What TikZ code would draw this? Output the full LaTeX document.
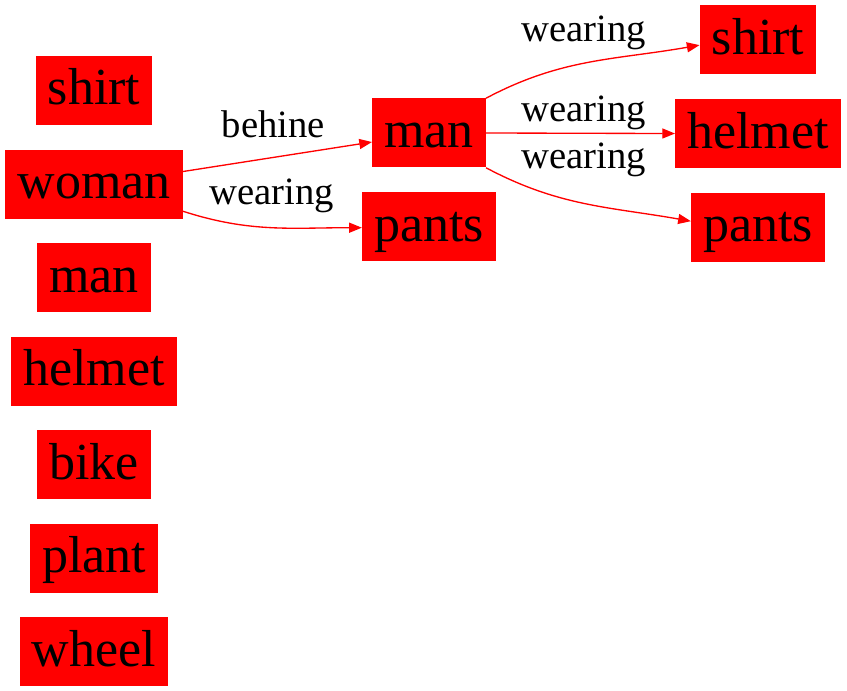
\documentclass[tikz,border=0pt]{standalone}
\usepackage{fontspec}
\setmainfont{Liberation Serif}
\usetikzlibrary{arrows.meta, positioning}
\definecolor{OBJred}{HTML}{FF0000}
\tikzset{
  objbox/.style={rectangle, fill=OBJred, text=black, inner xsep=9pt, inner ysep=0pt,
    text height=36.75pt, text depth=15pt, font=\fontsize{39}{47}\selectfont},
  relarr/.style={-{Triangle[length=9.5pt,width=7.5pt]}, line width=1pt, draw=OBJred},
  rellbl/.style={anchor=base, inner sep=0pt, text=black, font=\fontsize{29}{35}\selectfont},
}
\begin{document}
\begin{tikzpicture}[x=0.75pt, y=0.75pt, node distance=18pt and 18pt]
        \useasboundingbox (0,0) rectangle (847,-691);
        % left column
        \node[objbox] (lshirt) at (94,-90.5) {shirt};
        \node[objbox, below=of lshirt] (lwoman) {woman};
        \node[objbox, below=of lwoman] (lman) {man};
        \node[objbox, below=of lman] (lhelmet) {helmet};
        \node[objbox, below=of lhelmet] (lbike) {bike};
        \node[objbox, below=of lbike] (lplant) {plant};
        \node[objbox, below=of lplant] (lwheel) {wheel};
        % middle
        \node[objbox] (mman) at (429,-133) {man};
        \node[objbox, below=of mman] (mpants) {pants};
        % right
        \node[objbox] (rshirt) at (758,-40) {shirt};
        \node[objbox, below=of rshirt] (rhelmet) {helmet};
        \node[objbox, below=of rhelmet] (rpants) {pants};
        % relations
        \draw[relarr] (lwoman.8) -- (mman.189);
        \draw[relarr] (lwoman.-17) to[out=-18, in=180] (mpants.181);
        \draw[relarr] (mman.north east) to[out=28, in=190] (rshirt.185);
        \draw[relarr] (mman.east) -- (rhelmet.west);
        \draw[relarr] (mman.south east) to[out=-28, in=170] (rpants.175);
        \node[rellbl] (lbehine) at (273.5,-138) {behine};
        \node[rellbl] (lwear) at (272,-205) {wearing};
        \node[rellbl] (rwear1) at (584,-42) {wearing};
        \node[rellbl] (rwear2) at (584,-122) {wearing};
        \node[rellbl] (rwear3) at (584,-169) {wearing};
      \end{tikzpicture}
\end{document}
